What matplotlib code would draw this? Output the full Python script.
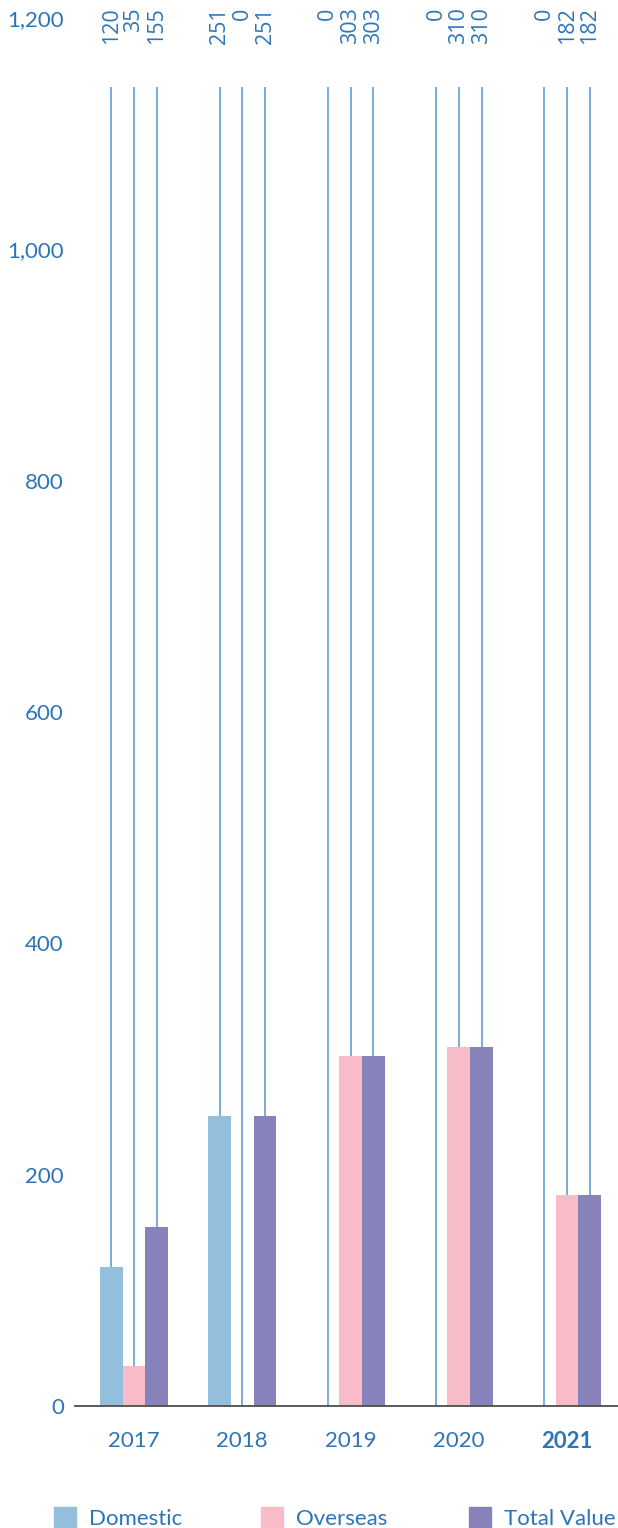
import matplotlib.pyplot as plt
from matplotlib.patches import Rectangle
import numpy as np

# values per year
years = ['2017', '2018', '2019', '2020', '2021']
domestic = [120, 251, 0, 0, 0]
overseas = [35, 0, 303, 310, 182]
total_value = [155, 251, 303, 310, 182]

series_names = ['Domestic', 'Overseas', 'Total Value']
series_colors = ['#93bfdd', '#f8bbc8', '#8882bb']
text_blue = '#2e74b8'
line_blue = '#5a93cf'

plt.rcParams['font.family'] = ['Lato', 'DejaVu Sans']

fig = plt.figure(figsize=(6.18, 15.28), dpi=100)
ax = fig.add_axes([75 / 618, 1 - 1406 / 1528, 543 / 618, 1388 / 1528])

x = np.arange(len(years))
w = 0.21
all_series = [domestic, overseas, total_value]
for i, vals in enumerate(all_series):
    xs = x + (i - 1) * w
    ax.bar(xs, vals, width=w, color=series_colors[i], zorder=2)
    # leader line from bar top up to the value label
    for xi, v in zip(xs, vals):
        ax.plot([xi, xi], [v, 1140], color=line_blue, lw=1.1, zorder=1,
                solid_capstyle='butt')
        ax.text(xi, 1209, str(v), rotation=90, ha='center', va='top',
                fontsize=15.5, color=text_blue, family=['Open Sans', 'DejaVu Sans'],
                clip_on=False)

ax.set_xlim(-0.545, 4.47)
ax.set_ylim(0, 1200)
ax.set_yticks(range(0, 1201, 200))
ax.set_yticklabels(['0', '200', '400', '600', '800', '1,000', '1,200'])
ax.set_xticks(x)
ax.set_xticklabels(years)
for lbl in ax.get_xticklabels():
    if lbl.get_text() == '2021':
        lbl.set_fontweight('bold')
ax.tick_params(axis='both', length=0, labelsize=16, labelcolor=text_blue)
ax.tick_params(axis='y', pad=8)
ax.tick_params(axis='x', pad=18)

for s in ['top', 'right', 'left']:
    ax.spines[s].set_visible(False)
ax.spines['bottom'].set_color('#4d4d4d')
ax.spines['bottom'].set_linewidth(1.3)

# legend drawn along the bottom edge
leg_patch_x = [54, 261, 469]
for px, name, col in zip(leg_patch_x, series_names, series_colors):
    fig.add_artist(Rectangle((px / 618, 0), 22 / 618, 21 / 1528,
                             transform=fig.transFigure, color=col))
    fig.text((px + 35) / 618, 9 / 1528, name, fontsize=16, color=text_blue,
             va='center', ha='left')

fig.savefig('out.png', dpi=100)
